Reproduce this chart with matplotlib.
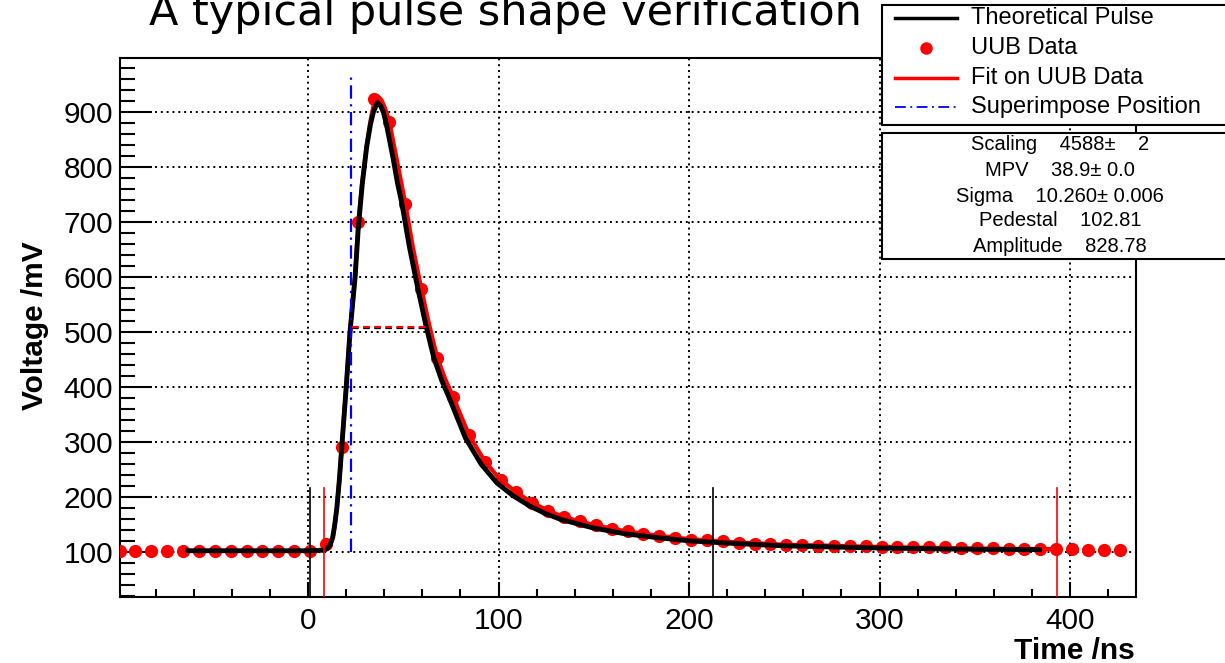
import matplotlib
matplotlib.use("Agg")
import matplotlib.pyplot as plt
from matplotlib.patches import Rectangle
from matplotlib.lines import Line2D
from matplotlib.ticker import MultipleLocator

plt.rcParams['font.family'] = ['Liberation Sans', 'DejaVu Sans']

# UUB samples (ns, mV), one every 8.33 ns
uub_t = [-98.95, -90.62, -82.28, -73.95, -65.62, -57.28, -48.95, -40.62, -32.28, -23.95,
         -15.62, -7.28, 1.05, 9.38, 17.72, 26.05, 34.38, 42.72, 51.05, 59.38,
         67.72, 76.05, 84.38, 92.72, 101.05, 109.38, 117.72, 126.05, 134.38, 142.72,
         151.05, 159.38, 167.72, 176.05, 184.38, 192.72, 201.05, 209.38, 217.72, 226.05,
         234.38, 242.72, 251.05, 259.38, 267.72, 276.05, 284.38, 292.72, 301.05, 309.38,
         317.72, 326.05, 334.38, 342.72, 351.05, 359.38, 367.72, 376.05, 384.38, 392.72,
         401.05, 409.38, 417.72, 426.05]
uub_v = [103, 103, 103, 103, 103, 103, 103, 103, 103, 103,
         103, 103, 103, 115, 292, 700, 924, 881, 733, 579,
         453, 383, 314, 265, 232, 209, 190, 176, 164, 157,
         149, 142, 138, 133, 130, 127, 123, 122, 120, 117,
         116, 115, 114, 113, 112, 112, 111, 111, 110, 110,
         109, 109, 109, 108, 108, 108, 107, 107, 107, 106,
         106, 105, 105, 105]

# theoretical pulse
theo_t = [-63, 0, 8, 10, 11.5, 13, 14, 15.1, 16.4, 17.7, 20.0, 22.0, 24.7, 26.4, 28.5,
          30.8, 32.8, 34.3, 36.4, 38.0, 39.5, 41.0, 43.0, 44.7, 47.0, 49.2, 53.2, 57.6,
          61.7, 65.9, 70.2, 74.2, 82.6, 90.9, 99.2, 107.6, 116, 124.3, 132.6, 149, 166,
          183, 200, 225, 250, 300, 340, 384]
theo_v = [103, 103, 104, 107, 113, 128, 150, 180, 230, 291, 398, 499, 600, 690, 770,
          837, 878, 900, 917, 912, 900, 880, 845, 815, 770, 735, 655, 580,
          515, 455, 412, 380, 308, 260, 226, 203, 185, 171, 160, 145, 134,
          127, 121, 116, 112, 108, 106, 105]

# fit on UUB data
fit_t = [8.4, 10, 11.5, 13, 14, 15.1, 16.4, 17.7, 20.0, 22.0, 24.7, 26.4, 28.5, 30.8,
         32.8, 34.4, 36.0, 37.0, 38.5, 40.5, 42.7, 46.5, 51.0, 55.0, 59.4, 63.5, 67.7,
         72.0, 76.0, 84.4, 92.7, 101.0, 109.4, 117.7, 126.0, 134.4, 151.0, 167.7, 184.4,
         201.0, 226.0, 251.0, 300.0, 350.0, 393.0]
fit_v = [103, 106, 112, 127, 149, 180, 230, 292, 400, 500, 602, 700, 775, 840,
         885, 912, 924, 927, 922, 906, 882, 815, 735, 655, 580, 515, 455,
         415, 384, 314, 266, 232, 209, 190, 176, 164, 149, 138, 130,
         124, 118, 114, 110, 107, 106]

black_marks = [0.8, 212.8]
red_marks = [8.4, 393.0]
mark_top = 217
superimpose_t = 22.4
superimpose_range = [100, 964]
halfmax_t = [22.9, 62.4]
halfmax_v = 510

stats_lines = ["Scaling    4588\u00b1    2",
               "MPV    38.9\u00b1 0.0",
               "Sigma    10.260\u00b1 0.006",
               "Pedestal    102.81",
               "Amplitude    828.78"]

W, H = 1225, 663
fig = plt.figure(figsize=(W / 100, H / 100), dpi=100)
ax = fig.add_axes([120 / W, 1 - 597 / H, (1136 - 120) / W, (597 - 57.5) / H])

ax.set_xlim(-98.7, 434.6)
ax.set_ylim(19, 999)

ax.plot(uub_t, uub_v, 'o', color='red', markersize=9.5, markeredgewidth=0, zorder=3)
ax.plot(fit_t, fit_v, color='red', lw=3, zorder=4)
ax.plot(theo_t, theo_v, color='black', lw=3.5, zorder=5)

for t in black_marks:
    ax.plot([t, t], [19, mark_top], color='black', lw=1.2, zorder=6)
for t in red_marks:
    ax.plot([t, t], [19, mark_top], color='red', lw=1.2, zorder=6)

ax.plot([superimpose_t, superimpose_t], superimpose_range, color='blue', lw=1.6,
        linestyle=(0, (6, 2.5, 1, 2.5)), zorder=6)
ax.plot(halfmax_t, [halfmax_v - 3, halfmax_v - 3], color='black', lw=1.6,
        linestyle=(0, (3, 2)), zorder=6)
ax.plot(halfmax_t, [halfmax_v, halfmax_v], color='red', lw=1.6,
        linestyle=(0, (3, 2)), zorder=7)

ax.xaxis.set_major_locator(MultipleLocator(100))
ax.xaxis.set_minor_locator(MultipleLocator(20))
ax.yaxis.set_major_locator(MultipleLocator(100))
ax.yaxis.set_minor_locator(MultipleLocator(20))
ax.grid(True, which='major', color='black', linestyle=(0, (1, 2)), lw=1.4)
ax.tick_params(which='both', direction='in', width=1.5, labelsize=21.5, top=False, right=False)
ax.tick_params(axis='x', which='major', length=10.8, pad=7)
ax.tick_params(axis='x', which='minor', length=5.8)
ax.tick_params(axis='y', which='major', length=23, pad=5)
ax.tick_params(axis='y', which='minor', length=10.8)
for s in ax.spines.values():
    s.set_linewidth(1.5)

fig.text(505 / W, 1 - 25 / H, 'A typical pulse shape verification', ha='center',
         va='baseline', fontsize=31, family='DejaVu Sans')
fig.text(1135 / W, 1 - 659 / H, 'Time /ns', ha='right', va='baseline',
         fontsize=21.5, weight='bold')
fig.text(35 / W, 1 - 326 / H, 'Voltage /mV', rotation=90, ha='center', va='center',
         fontsize=21.5, weight='bold')

# legend box
fig.add_artist(Rectangle((881.7 / W, 1 - 125 / H), 400 / W, 120 / H, transform=fig.transFigure,
                         facecolor='white', edgecolor='black', lw=1.5, zorder=10))
ly = [17.5, 48, 78, 107]
lx = [895 / W, 957 / W]
fig.add_artist(Line2D(lx, [1 - ly[0] / H] * 2, color='black', lw=2.5, zorder=11))
fig.add_artist(Line2D([926 / W], [1 - ly[1] / H], marker='o', color='red', markersize=9,
                      markeredgewidth=0, zorder=11))
fig.add_artist(Line2D(lx, [1 - ly[2] / H] * 2, color='red', lw=2.5, zorder=11))
fig.add_artist(Line2D(lx, [1 - ly[3] / H] * 2, color='blue', lw=1.3,
                      linestyle=(0, (6, 2.5, 1, 2.5)), zorder=11))
for y, s in zip(ly, ['Theoretical Pulse', 'UUB Data', 'Fit on UUB Data', 'Superimpose Position']):
    fig.text(971 / W, 1 - y / H, s, ha='left', va='center', fontsize=17, zorder=12)

# stats box
fig.add_artist(Rectangle((881.7 / W, 1 - 259.3 / H), 400 / W, 126.6 / H, transform=fig.transFigure,
                         facecolor='white', edgecolor='black', lw=1.5, zorder=10))
for y, s in zip([145, 171, 196, 221, 246], stats_lines):
    fig.text(1060 / W, 1 - y / H, s, ha='center', va='center', fontsize=14.5, zorder=12)

fig.savefig('out.png', dpi=100)
